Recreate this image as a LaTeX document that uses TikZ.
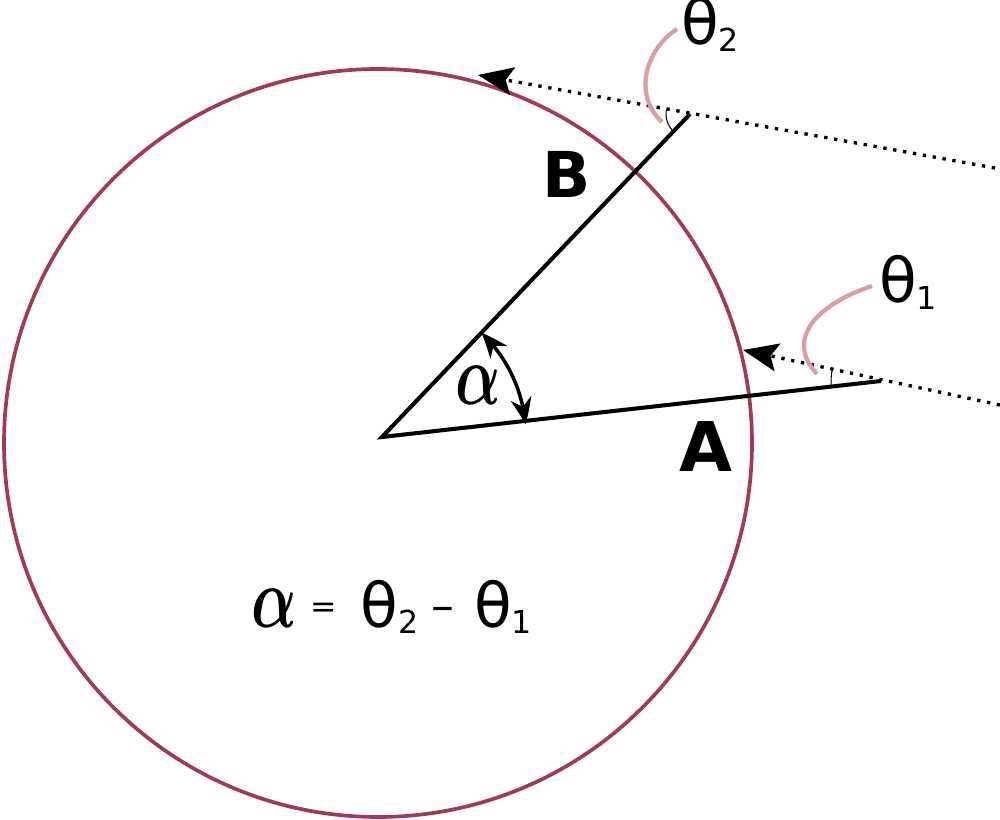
\documentclass[tikz,border=0pt]{standalone}
\usepackage{fontspec}
\usepackage{tikz}
\usetikzlibrary{arrows.meta,bending}
\newfontfamily\dejavu{DejaVu Sans}
\definecolor{rim}{HTML}{A33A53}
\definecolor{leadpink}{HTML}{D8A0A0}
\newcommand{\thsub}[1]{θ\raisebox{-3.5pt}{\fontsize{18}{20}\selectfont #1}}
\newcommand{\bigalpha}{{\fontsize{10}{12}\selectfont\scalebox{3.4}[4.9]{\boldmath$\alpha$}}}

\begin{document}
\begin{tikzpicture}[x=0.02cm,y=-0.02cm]
\tikzstyle{every node}=[inner sep=0pt,anchor=base west]
\tikzstyle{arm}=[line width=2.3pt,line join=miter]
\tikzstyle{ray}=[line width=1.9pt,dash pattern=on 1.9pt off 3.8pt,-{Stealth[length=20pt,width=16pt,inset=4pt]}]
\tikzstyle{leader}=[leadpink,line width=2.4pt]
\useasboundingbox (0,0) rectangle (1000,820);
\coordinate (O) at (382,437);
\coordinate (A) at (881,381);
\coordinate (B) at (690,114);
\coordinate (inA) at (1000,405);
\coordinate (hitA) at (743,350);
\coordinate (inB) at (995,168);
\coordinate (hitB) at (478,75);
\draw[rim,line width=2.1pt](378,443) circle (374);
\draw[arm](A)--(O)--(B);
\draw[ray](inA)--(hitA);
\draw[ray](inB)--(hitB);
\draw[line width=0.6pt](B)++(133.6:24) arc[start angle=133.6,end angle=190.5,radius=24];
\draw[line width=0.6pt](A)++(173.6:50) arc[start angle=173.6,end angle=192.7,radius=50];
\draw[line width=2pt,{Stealth[length=15pt,width=12pt,bend]}-{Stealth[length=15pt,width=12pt,bend]}]
 (O)++(-46.4:144) arc[start angle=-46.4,end angle=-5,radius=144];
\draw[leader](677,29) .. controls (645,50) and (633,95) .. (662,122);
\draw[leader](872,286) .. controls (815,305) and (785,340) .. (817,374);
\node (th2) at (681,45) {\dejavu\fontsize{35}{40}\selectfont\thsub{2}};
\node (th1) at (879,303) {\dejavu\fontsize{35}{40}\selectfont\thsub{1}};
\node (labB) at (542,198) {\dejavu\bfseries\fontsize{36}{40}\selectfont B};
\node (labA) at (679,471) {\dejavu\bfseries\fontsize{39}{44}\selectfont A};
\node (alpha) at (455,405) {\bigalpha};
\node (rule) at (251,627) {\dejavu\fontsize{35}{40}\selectfont
 \bigalpha\hspace{8pt}\raisebox{5.2pt}{\fontsize{18}{20}\selectfont=}\hspace{13.3pt}\thsub{2}%
 \hspace{7.2pt}\raisebox{3pt}{\fontsize{26}{30}\selectfont–}\hspace{11.5pt}\thsub{1}};
\end{tikzpicture}
\end{document}
